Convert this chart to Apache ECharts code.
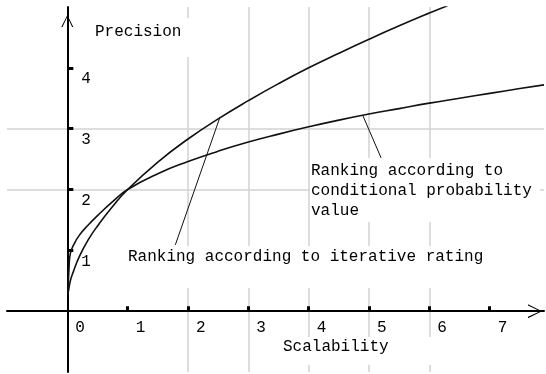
<!DOCTYPE html>
<html>
<head>
<meta charset="utf-8">
<script src="https://cdn.jsdelivr.net/npm/echarts@6/dist/echarts.min.js"></script>
<style>
  html, body { margin: 0; padding: 0; background: #fff; }
  #chart { width: 546px; height: 374px; }
</style>
</head>
<body>
<div id="chart"></div>
<script>
// Ranking by iterative rating: precision against scalability
const iterativeX = [0.02, 0.05, 0.1, 0.2, 0.35, 0.5, 0.75, 1, 1.5, 2, 2.5, 3, 3.5, 4, 4.5, 5, 5.5, 6, 6.3];
const iterativeY = [0.33, 0.5, 0.65, 0.9, 1.18, 1.4, 1.72, 2.0, 2.45, 2.83, 3.16, 3.46, 3.74, 4.0, 4.24, 4.47, 4.69, 4.9, 5.02];

// Ranking by conditional probability value
const conditionalX = [0.01, 0.03, 0.05, 0.1, 0.2, 0.35, 0.5, 0.75, 1, 1.5, 2, 2.5, 3, 3.5, 4, 4.5, 5, 5.5, 6, 6.5, 7, 7.5, 7.9];
const conditionalY = [0.26, 0.75, 0.95, 1.08, 1.25, 1.42, 1.57, 1.8, 2.0, 2.26, 2.46, 2.63, 2.78, 2.91, 3.03, 3.14, 3.24, 3.33, 3.42, 3.5, 3.58, 3.66, 3.72];

// Leader lines from the captions to their curves
const iterativeLeader = [[1.79, 1.09], [2.53, 3.19]];
const conditionalLeader = [[4.9, 3.21], [5.2, 2.52]];

// Axis ranges, ticks and labels
const xRange = [-1, 7.9];
const yRange = [-1, 5];
const xTicks = [1, 2, 3, 4, 5, 6, 7];
const xLabels = [0, 1, 2, 3, 4, 5, 6, 7];
const yTicks = [1, 2, 3, 4];
const yLabels = [1, 2, 3, 4];

const xName = 'Scalability';
const yName = 'Precision';
const iterativeCaption = 'Ranking according to iterative rating';
const conditionalCaption = 'Ranking according to\nconditional probability\nvalue';

const zip = (xs, ys) => xs.map((x, i) => [x, ys[i]]);

const FONT = '"Liberation Mono", "DejaVu Sans Mono", monospace';
const arrow = 'path://M50,0 L100,100 L90,100 L50,14 L10,100 L0,100 Z';

const el = document.getElementById('chart');
const chart = echarts.init(el, null, { renderer: 'canvas' });

const grid = { left: 7, right: 2, top: 7, bottom: 2 };
const plotW = chart.getWidth() - grid.left - grid.right;
const plotH = chart.getHeight() - grid.top - grid.bottom;
// The two axes cross at the origin, so shift each one from the grid edge to zero.
const xAxisShift = -plotH * (0 - yRange[0]) / (yRange[1] - yRange[0]);
const yAxisShift = -plotW * (0 - xRange[0]) / (xRange[1] - xRange[0]);

const curveStyle = { color: '#111', width: 1.6 };
const gridLine = { show: true, showMinLine: false, showMaxLine: false, lineStyle: { color: '#d2d2d2', width: 1.5 } };

chart.setOption({
  backgroundColor: '#fff',
  animation: false,
  grid: Object.assign({ containLabel: false, outerBoundsMode: 'none' }, grid),
  xAxis: {
    type: 'value', min: xRange[0], max: xRange[1], interval: 1,
    position: 'bottom', offset: xAxisShift,
    axisLine: { onZero: false, lineStyle: { color: '#000', width: 2 },
      symbol: ['none', arrow], symbolSize: [14, 18], symbolOffset: [0, -9] },
    axisTick: { show: true, inside: true, length: 5, lineStyle: { color: '#000', width: 3 }, customValues: xTicks },
    axisLabel: { customValues: xLabels, color: '#000', fontFamily: FONT, fontSize: 16,
      align: 'left', margin: 9, padding: [0, 0, 0, 8] },
    splitLine: gridLine
  },
  yAxis: {
    type: 'value', min: yRange[0], max: yRange[1], interval: 1,
    position: 'left', offset: yAxisShift,
    axisLine: { onZero: false, lineStyle: { color: '#000', width: 2 },
      symbol: ['none', arrow], symbolSize: [12, 22], symbolOffset: [0, -14] },
    axisTick: { show: true, inside: true, length: 6, lineStyle: { color: '#000', width: 3 }, customValues: yTicks },
    axisLabel: { customValues: yLabels, inside: true, color: '#000', fontFamily: FONT, fontSize: 16,
      margin: 14, verticalAlign: 'top', padding: [3, 0, 0, 0] },
    splitLine: gridLine
  },
  graphic: [
    { type: 'rect', z: 1, shape: { x: 90, y: 18, width: 107, height: 39 }, style: { fill: '#fff' } },
    { type: 'rect', z: 1, shape: { x: 252, y: 337, width: 183, height: 28 }, style: { fill: '#fff' } },
    { type: 'rect', z: 1, shape: { x: 129, y: 246, width: 366, height: 42 }, style: { fill: '#fff' } },
    { type: 'rect', z: 1, shape: { x: 310, y: 158, width: 230, height: 64 }, style: { fill: '#fff' } },
    { type: 'text', z: 5, x: 95, y: 32, style: { text: yName, font: '16px ' + FONT, fill: '#000', verticalAlign: 'middle' } },
    { type: 'text', z: 5, x: 283, y: 347, style: { text: xName, font: '16px ' + FONT, fill: '#000', verticalAlign: 'middle' } },
    { type: 'text', z: 5, x: 128, y: 257, style: { text: iterativeCaption, font: '16px ' + FONT, fill: '#000', verticalAlign: 'middle' } },
    { type: 'text', z: 5, x: 311, y: 161, style: { text: conditionalCaption, font: '16px ' + FONT, fill: '#000', verticalAlign: 'top', lineHeight: 20 } }
  ],
  series: [
    { type: 'line', data: zip(iterativeX, iterativeY), showSymbol: false, smooth: 0.5,
      lineStyle: curveStyle, z: 3 },
    { type: 'line', data: zip(conditionalX, conditionalY), showSymbol: false, smooth: 0.5,
      lineStyle: curveStyle, z: 3 },
    { type: 'line', data: iterativeLeader, showSymbol: false, lineStyle: { color: '#111', width: 1 }, z: 3 },
    { type: 'line', data: conditionalLeader, showSymbol: false, lineStyle: { color: '#111', width: 1 }, z: 3 }
  ]
});
</script>
</body>
</html>
